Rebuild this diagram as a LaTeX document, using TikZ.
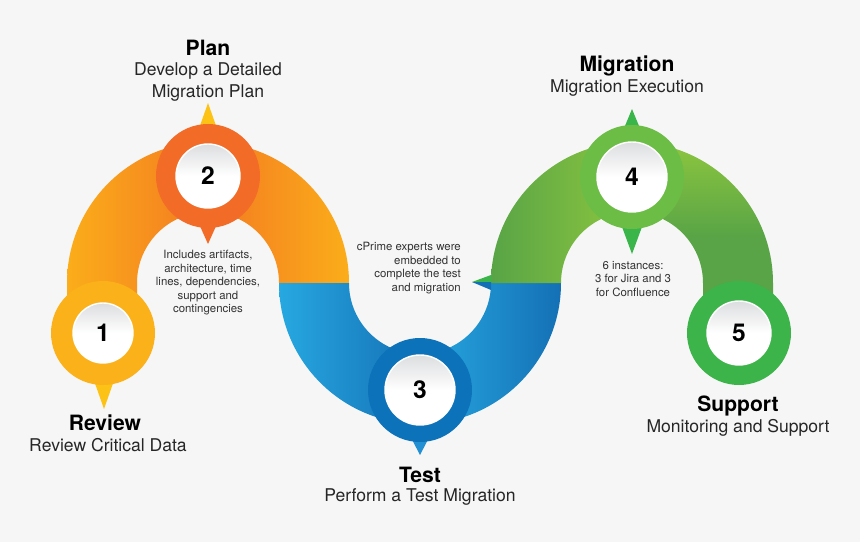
\documentclass[tikz,border=0pt]{standalone}
\usepackage{fontspec}
\setmainfont{TeX Gyre Heros}

\definecolor{bgGray}{HTML}{F6F6F6}
\definecolor{orYellow}{HTML}{FBAD1A}
\definecolor{orDeep}{HTML}{F37A21}
\definecolor{ringOne}{HTML}{FBB119}
\definecolor{ringTwo}{HTML}{F26B27}
\definecolor{tipYellow}{HTML}{FDC216}
\definecolor{blLight}{HTML}{27A8E0}
\definecolor{blDark}{HTML}{1470B5}
\definecolor{ringThree}{HTML}{0C72B9}
\definecolor{tipBlue}{HTML}{2290D2}
\definecolor{grDark}{HTML}{58A446}
\definecolor{grLight}{HTML}{8DC63F}
\definecolor{ringFour}{HTML}{6CBD45}
\definecolor{ringFive}{HTML}{3CB44A}
\definecolor{tipGreen}{HTML}{39B54A}
\definecolor{innerGray}{HTML}{DCDDDF}

\tikzset{
  inner/.style={top color=innerGray, bottom color=white, middle color=white, draw=white, line width=0.8pt},
  num/.style={font=\fontsize{14}{14}\selectfont\bfseries},
  title/.style={font=\fontsize{12}{14}\selectfont\bfseries},
  sub/.style={align=center, font=\fontsize{10}{12}\selectfont, text=black!85},
  note/.style={font=\fontsize{6.5}{7.7}\selectfont, text=black!80},
}

\begin{document}
\begin{tikzpicture}[x=0.02cm, y=0.02cm]

    % constants
    \def\cy{259}
    \def\ro{141}
    \def\ri{71}
    \def\leg{209}
    \def\xa{208}
    \def\xb{420}
    \def\xc{632}
    \def\rr{52}

    % background
    \fill [bgGray] (0,0) rectangle (860,542);

    % orange arch
    \shade [left color=orYellow, right color=orDeep] (\xa-\ro,\leg) -- (\xa-\ro,\cy) arc [start angle=180, end angle=90, radius=\ro] -- (\xa,\cy+\ri) arc [start angle=90, end angle=180, radius=\ri] -- (\xa-\ri,\leg) -- cycle;
    \shade [left color=orDeep, right color=orYellow] (\xa,\cy+\ro) arc [start angle=90, end angle=0, radius=\ro] -- (\xa+\ri,\cy) arc [start angle=0, end angle=90, radius=\ri] -- cycle;

    % blue arch
    \shade [left color=blLight, right color=blDark] (\xb-\ro,\cy) arc [start angle=180, end angle=270, radius=\ro] -- (\xb,\cy-\ri) arc [start angle=270, end angle=180, radius=\ri] -- cycle;
    \shade [left color=blLight, right color=blDark] (\xb,\cy-\ro) arc [start angle=270, end angle=360, radius=\ro] -- (\xb+\ri,\cy) arc [start angle=0, end angle=-90, radius=\ri] -- cycle;

    % green arch
    \shade [left color=grDark, right color=grLight] (\xc-\ro,\cy) arc [start angle=180, end angle=90, radius=\ro] -- (\xc,\cy+\ri) arc [start angle=90, end angle=180, radius=\ri] -- cycle;
    \shade [top color=grLight, bottom color=grDark, middle color=grDark] (\xc,\cy+\ro) arc [start angle=90, end angle=0, radius=\ro] -- (\xc+\ro,\leg) -- (\xc+\ri,\leg) -- (\xc+\ri,\cy) arc [start angle=0, end angle=90, radius=\ri] -- cycle;

    % pointers
    \fill [tipYellow] (91,170) -- (104,133) -- (117,170) -- cycle;
    \fill [tipYellow] (196,405) -- (208,439) -- (220,405) -- cycle;
    \fill [ringTwo] (195,327) -- (208,298) -- (221,327) -- cycle;
    \fill [tipBlue] (406,114) -- (420,87) -- (434,114) -- cycle;
    \fill [tipGreen] (620,404) -- (632,433) -- (644,404) -- cycle;
    \fill [tipGreen] (618,326) -- (632,288) -- (646,326) -- cycle;
    \fill [tipGreen] (491,267) -- (472,260) -- (491,260) -- cycle;
    \fill [blDark] (491,260) -- (472,260) -- (491,252) -- cycle;

    % rings
    \fill [ringOne] (103,209) circle (\rr);
    \fill [ringTwo] (\xa,366) circle (\rr);
    \fill [ringThree] (\xb,152) circle (\rr);
    \fill [ringFour] (\xc,365) circle (\rr);
    \fill [ringFive] (739,209) circle (\rr);

    \shade [inner] (103,209) circle (30);
    \shade [inner] (\xa,366) circle (32);
    \shade [inner] (\xb,152) circle (35);
    \shade [inner] (\xc,365) circle (35);
    \shade [inner] (739,209) circle (32);

    \node [num] (n1) at (103,209) {1};
    \node [num] (n2) at (\xa,366) {2};
    \node [num] (n3) at (\xb,152) {3};
    \node [num] (n4) at (\xc,365) {4};
    \node [num] (n5) at (739,209) {5};

    % labels
    \node [title] (plan) at (208,494) {Plan};
    \node [sub] (plansub) at (208,460) {Develop a Detailed\\Migration Plan};
    \node [title] (migr) at (627,476) {Migration};
    \node [sub] (migrsub) at (627,454) {Migration Execution};
    \node [title] (review) at (105,119) {Review};
    \node [sub] (reviewsub) at (108,97) {Review Critical Data};
    \node [title] (test) at (420,67) {Test};
    \node [sub] (testsub) at (420,45) {Perform a Test Migration};
    \node [title] (supp) at (738,136) {Support};
    \node [sub] (suppsub) at (738,114) {Monitoring and Support};

    % notes
    \node [note, align=center] (planote) at (208,259) {Includes artifacts,\\architecture, time\\lines, dependencies,\\support and\\contingencies};
    \node [note, align=right, anchor=east] (testnote) at (467,274) {cPrime experts were\\embedded to\\complete the test\\and migration};
    \node [note, align=center] (migrnote) at (633,263) {6 instances:\\3 for Jira and 3\\for Confluence};

\end{tikzpicture}
\end{document}
